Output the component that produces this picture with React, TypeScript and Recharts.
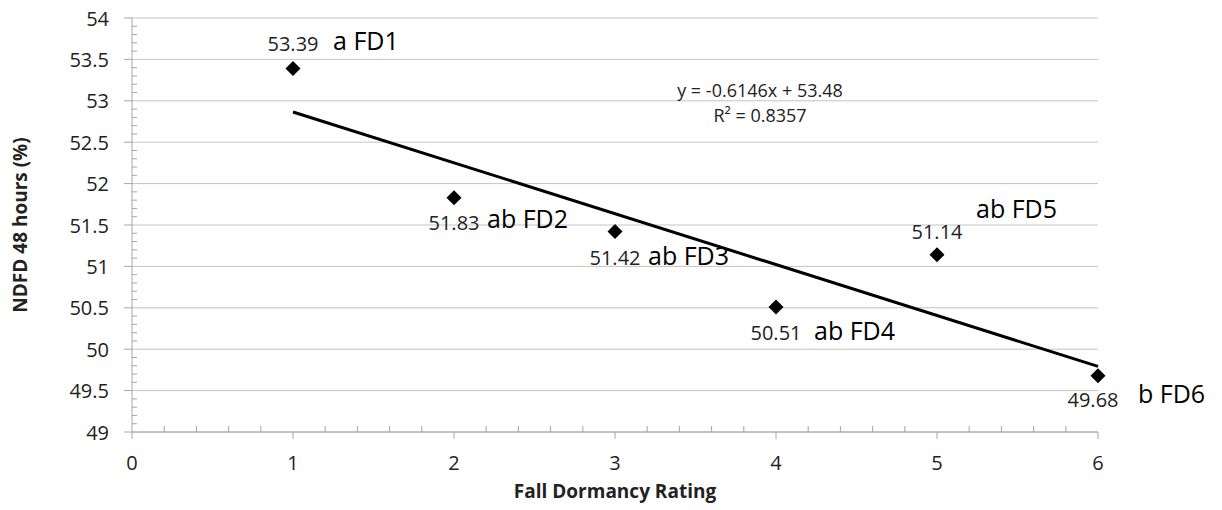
import { ScatterChart, Scatter, XAxis, YAxis, CartesianGrid, ReferenceLine } from "recharts";

const ratings = [1, 2, 3, 4, 5, 6];
const ndfd = [53.39, 51.83, 51.42, 50.51, 51.14, 49.68];
const groups = ["a FD1", "ab FD2", "ab FD3", "ab FD4", "ab FD5", "b FD6"];

const xMajorTicks = [0, 1, 2, 3, 4, 5, 6];
const yMajorTicks = [49, 49.5, 50, 50.5, 51, 51.5, 52, 52.5, 53, 53.5, 54];

// trendline as printed on the chart
const slope = -0.6146;
const intercept = 53.48;
const rSquared = 0.8357;

// minor ticks: every 0.2 on x, every 0.1 on y
const xTicks = Array.from({ length: 31 }, (_, i) => (i * 2) / 10);
const yTicks = Array.from({ length: 51 }, (_, i) => (490 + i) / 10);

const data = ratings.map((x, i) => ({ x, y: ndfd[i], group: groups[i] }));
const trend = [
  { x: 1, y: intercept + slope * 1 },
  { x: 6, y: intercept + slope * 6 },
];

// where each point's labels sit, relative to the marker
const labelPlacement = [
  { vdx: 0, vdy: -25, gdx: 40, gdy: -29 },
  { vdx: 0, vdy: 25, gdx: 33, gdy: 20 },
  { vdx: 0, vdy: 26, gdx: 33, gdy: 23 },
  { vdx: 0, vdy: 26, gdx: 38, gdy: 23 },
  { vdx: 0, vdy: -23, gdx: 39, gdy: -47 },
  { vdx: -5, vdy: 24, gdx: 40, gdy: 17 },
];

const font = "'Open Sans', 'Noto Sans', sans-serif";
const axisColor = "#a6a6a6";
const gridColor = "#c4c4c4";
const textColor = "#222";

const isWhole = (v: number, step: number) => Math.abs(v / step - Math.round(v / step)) < 1e-6;

function XTick({ x, y, payload }: any) {
  const v = payload.value;
  if (!xMajorTicks.some((t) => Math.abs(t - v) < 1e-6)) {
    return <line x1={x} x2={x} y1={y} y2={y - 6} stroke={axisColor} />;
  }
  return (
    <g>
      <line x1={x} x2={x} y1={y} y2={y + 7} stroke={axisColor} />
      <text x={x} y={y + 30} textAnchor="middle" dominantBaseline="central" fontSize={20} fontFamily={font} fill={textColor}>
        {Math.round(v)}
      </text>
    </g>
  );
}

function YTick({ x, y, payload }: any) {
  const v = payload.value;
  if (!isWhole(v, 0.5)) {
    return <line x1={x} x2={x + 5} y1={y} y2={y} stroke={axisColor} />;
  }
  return (
    <g>
      <line x1={x - 8} x2={x} y1={y} y2={y} stroke={axisColor} />
      <text x={x - 23} y={y} textAnchor="end" dominantBaseline="central" fontSize={20} fontFamily={font} fill={textColor}>
        {String(Math.round(v * 10) / 10)}
      </text>
    </g>
  );
}

function Diamond(props: any) {
  const { cx, cy, payload } = props;
  const p = labelPlacement[ratings.indexOf(payload.x)];
  const h = 7.5;
  return (
    <g>
      <polygon points={`${cx},${cy - h} ${cx + h},${cy} ${cx},${cy + h} ${cx - h},${cy}`} fill="#000" />
      <text x={cx + p.vdx} y={cy + p.vdy} textAnchor="middle" dominantBaseline="central" fontSize={20} fontFamily={font} fill={textColor}>
        {payload.y.toFixed(2)}
      </text>
      <text x={cx + p.gdx} y={cy + p.gdy} textAnchor="start" dominantBaseline="central" fontSize={25} fontFamily={font} fill="#000">
        {payload.group}
      </text>
    </g>
  );
}

export default function App() {
  return (
    <div style={{ position: "absolute", left: 0, top: 0, width: 1222, height: 510, background: "#fff" }}>
      <ScatterChart width={1222} height={510} margin={{ top: 18, right: 124, bottom: 0, left: 0 }}>
        <CartesianGrid vertical={false} horizontalValues={yMajorTicks} stroke={gridColor} />
        <XAxis
          dataKey="x"
          type="number"
          domain={[0, 6]}
          ticks={xTicks}
          interval={0}
          height={78}
          tickSize={0}
          tickMargin={0}
          tickLine={false}
          tick={<XTick />}
          axisLine={{ stroke: axisColor }}
          label={{
            value: "Fall Dormancy Rating",
            position: "insideBottom",
            offset: 12,
            style: { fontFamily: font, fontSize: 19, fontWeight: 700, fill: textColor },
          }}
        />
        <YAxis
          dataKey="y"
          type="number"
          domain={[49, 54]}
          ticks={yTicks}
          interval={0}
          width={132}
          tickSize={0}
          tickMargin={0}
          tickLine={false}
          tick={<YTick />}
          axisLine={{ stroke: axisColor }}
          label={{
            value: "NDFD 48 hours (%)",
            angle: -90,
            position: "insideLeft",
            offset: 20,
            style: { textAnchor: "middle", fontFamily: font, fontSize: 19, fontWeight: 700, fill: textColor },
          }}
        />
        <ReferenceLine segment={trend} stroke="#000" strokeWidth={3} />
        <Scatter data={data} shape={<Diamond />} isAnimationActive={false} />
      </ScatterChart>
      <div
        style={{
          position: "absolute",
          left: 630,
          top: 78,
          width: 260,
          textAlign: "center",
          fontFamily: font,
          fontSize: 18,
          lineHeight: "25px",
          color: textColor,
        }}
      >
        <div>y = {slope}x + {intercept}</div>
        <div>R² = {rSquared}</div>
      </div>
    </div>
  );
}
